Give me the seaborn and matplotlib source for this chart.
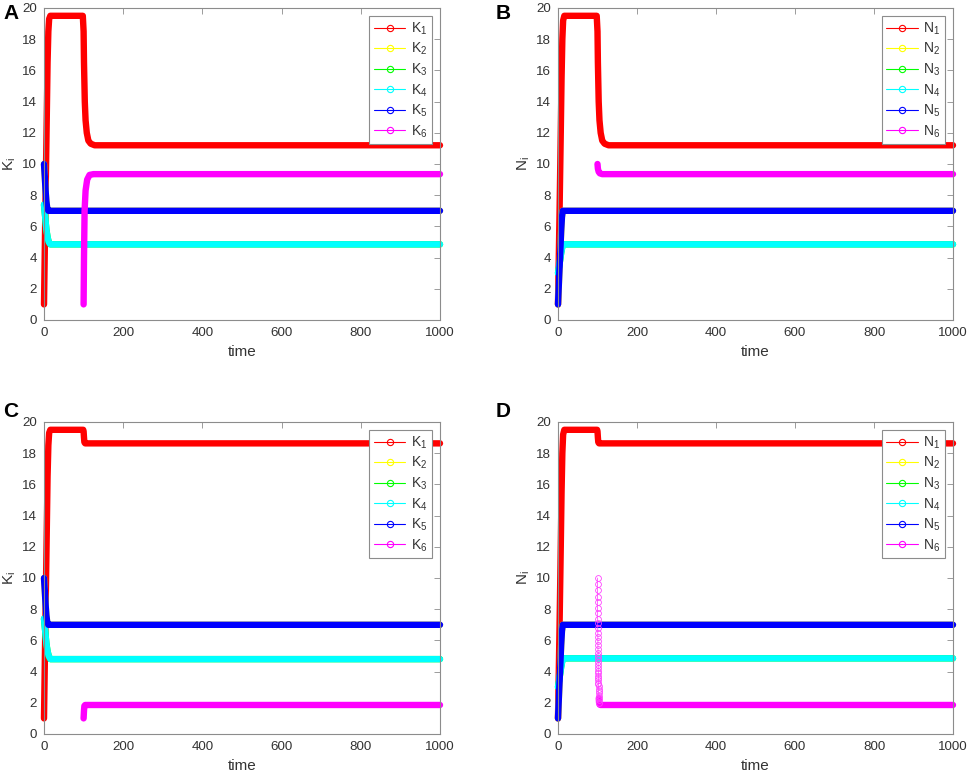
import matplotlib
matplotlib.use("Agg")
import matplotlib.pyplot as plt
import seaborn as sns
from matplotlib.lines import Line2D

# ---------------- data ----------------
# Panel A  (K_i, first scenario)
tA_K1 = [0, 4, 7, 9, 11, 13, 16, 98, 100, 101, 103, 105, 108, 112, 118, 128, 1000]
A_K1 = [1, 8, 13, 16.5, 18.5, 19.3, 19.5, 19.5, 18.5, 16.5, 14.0, 12.8, 12.0, 11.5, 11.3, 11.2, 11.2]
tA_K2 = [0, 2, 4, 6, 8, 11, 1000]
A_K2 = [10, 9.2, 8.3, 7.6, 7.2, 7.0, 7.0]
tA_K3 = [0, 3, 6, 9, 12, 16, 1000]
A_K3 = [7.4, 6.6, 5.8, 5.3, 5.0, 4.85, 4.85]
tA_K4 = [0, 3, 6, 9, 12, 16, 1000]
A_K4 = [7.4, 6.6, 5.8, 5.3, 5.0, 4.85, 4.85]
tA_K5 = [0, 2, 4, 6, 8, 11, 1000]
A_K5 = [10, 9.2, 8.3, 7.6, 7.2, 7.0, 7.0]
tA_K6 = [100, 101, 102.5, 105, 109, 115, 125, 1000]
A_K6 = [1, 4, 7, 8.3, 9.0, 9.3, 9.35, 9.35]

# Panel B  (N_i, first scenario)
tB_N1 = [0, 4, 7, 9, 11, 13, 16, 98, 100, 101, 103, 105, 108, 112, 118, 128, 1000]
B_N1 = [1, 7, 12, 15.5, 18, 19.2, 19.5, 19.5, 18.5, 16.5, 14.0, 12.8, 12.0, 11.5, 11.3, 11.2, 11.2]
tB_N2 = [0, 3, 6, 8, 10, 12, 1000]
B_N2 = [1, 2.8, 4.5, 5.7, 6.6, 7.0, 7.0]
tB_N3 = [0, 4, 8, 11, 14, 1000]
B_N3 = [3, 3.6, 4.3, 4.7, 4.85, 4.85]
tB_N4 = [0, 4, 8, 11, 14, 1000]
B_N4 = [3, 3.6, 4.3, 4.7, 4.85, 4.85]
tB_N5 = [0, 3, 6, 8, 10, 12, 1000]
B_N5 = [1, 2.8, 4.5, 5.7, 6.6, 7.0, 7.0]
tB_N6 = [100, 101, 103, 106, 112, 1000]
B_N6 = [10.0, 9.7, 9.5, 9.4, 9.35, 9.35]

# Panel C  (K_i, second scenario)
tC_K1 = [0, 4, 7, 9, 11, 13, 16, 99, 100, 101, 102, 104, 1000]
C_K1 = [1, 8, 13, 16.5, 18.5, 19.3, 19.5, 19.5, 19.4, 19.0, 18.7, 18.63, 18.63]
tC_K2 = [0, 2, 4, 6, 8, 11, 1000]
C_K2 = [10, 9.2, 8.3, 7.6, 7.2, 7.0, 7.0]
tC_K3 = [0, 3, 6, 9, 12, 16, 1000]
C_K3 = [7.4, 6.6, 5.8, 5.3, 5.0, 4.8, 4.8]
tC_K4 = [0, 3, 6, 9, 12, 16, 1000]
C_K4 = [7.4, 6.6, 5.8, 5.3, 5.0, 4.8, 4.8]
tC_K5 = [0, 2, 4, 6, 8, 11, 1000]
C_K5 = [10, 9.2, 8.3, 7.6, 7.2, 7.0, 7.0]
tC_K6 = [100, 101, 102, 104, 1000]
C_K6 = [1.0, 1.5, 1.8, 1.86, 1.86]

# Panel D  (N_i, second scenario)
tD_N1 = [0, 4, 7, 9, 11, 13, 16, 99, 100, 101, 102, 104, 1000]
D_N1 = [1, 7, 12, 15.5, 18, 19.2, 19.5, 19.5, 19.4, 19.0, 18.7, 18.63, 18.63]
tD_N2 = [0, 3, 6, 8, 10, 12, 1000]
D_N2 = [1, 2.8, 4.5, 5.7, 6.6, 7.0, 7.0]
tD_N3 = [0, 4, 8, 11, 14, 1000]
D_N3 = [3, 3.6, 4.3, 4.7, 4.85, 4.85]
tD_N4 = [0, 4, 8, 11, 14, 1000]
D_N4 = [3, 3.6, 4.3, 4.7, 4.85, 4.85]
tD_N5 = [0, 3, 6, 8, 10, 12, 1000]
D_N5 = [1, 2.8, 4.5, 5.7, 6.6, 7.0, 7.0]
# N6 in D: sparse jump (individual circles visible) followed by the flat band
tD_N6_jump = [100.0, 100.05, 100.1, 100.15, 100.2, 100.3, 100.4, 100.5, 100.6, 100.7,
              100.8, 100.9, 101.0, 101.1, 101.2, 101.3, 101.4, 101.5, 101.6, 101.7,
              101.8, 101.9, 102.0, 102.1, 102.2, 102.3, 102.4, 102.5, 102.6, 102.7,
              102.8, 102.9, 103.0, 103.1, 103.2, 103.3]
D_N6_jump = [10.0, 9.6, 9.2, 8.8, 8.45, 8.1, 7.75, 7.4, 7.1, 6.8,
             6.5, 6.2, 5.95, 5.7, 5.45, 5.2, 5.0, 4.8, 4.6, 4.4,
             4.2, 4.05, 3.9, 3.75, 3.6, 3.45, 3.3, 3.2, 3.05, 2.9,
             2.75, 2.6, 2.45, 2.3, 2.15, 2.0]
tD_N6 = [103.3, 104, 105.5, 108, 1000]
D_N6 = [2.3, 2.0, 1.88, 1.86, 1.86]

series_colors = ["#ff0000", "#ffff00", "#00ff00", "#00ffff", "#0000ff", "#ff00ff"]
xticks = [0, 200, 400, 600, 800, 1000]
yticks = [0, 2, 4, 6, 8, 10, 12, 14, 16, 18, 20]

panels = [
    ("A", "K", [(tA_K1, A_K1), (tA_K2, A_K2), (tA_K3, A_K3), (tA_K4, A_K4), (tA_K5, A_K5), (tA_K6, A_K6)]),
    ("B", "N", [(tB_N1, B_N1), (tB_N2, B_N2), (tB_N3, B_N3), (tB_N4, B_N4), (tB_N5, B_N5), (tB_N6, B_N6)]),
    ("C", "K", [(tC_K1, C_K1), (tC_K2, C_K2), (tC_K3, C_K3), (tC_K4, C_K4), (tC_K5, C_K5), (tC_K6, C_K6)]),
    ("D", "N", [(tD_N1, D_N1), (tD_N2, D_N2), (tD_N3, D_N3), (tD_N4, D_N4), (tD_N5, D_N5), (tD_N6, D_N6)]),
]

# ---------------- style ----------------
sns.set_theme(style="white")
plt.rcParams["font.family"] = ["Liberation Sans", "DejaVu Sans"]
plt.rcParams["mathtext.fontset"] = "custom"
plt.rcParams["mathtext.rm"] = "Liberation Sans"
plt.rcParams["mathtext.it"] = "Liberation Sans"

W, H = 969, 773
fig = plt.figure(figsize=(W / 100, H / 100), dpi=100)

spine_c = "#8c8c8c"
text_c = "#333333"

boxes = {  # left, top, right, bottom in pixels
    "A": (44, 8, 440, 320),
    "B": (558, 8, 953, 320),
    "C": (44, 422, 440, 734),
    "D": (558, 422, 953, 734),
}
letter_pos = {"A": (3, 4), "B": (496, 4), "C": (3, 402), "D": (496, 402)}

for letter, sym, data in panels:
    l, t, r, b = boxes[letter]
    ax = fig.add_axes([l / W, 1 - b / H, (r - l) / W, (b - t) / H])
    for i, (tt, yy) in enumerate(data):
        sns.lineplot(x=tt, y=yy, ax=ax, color=series_colors[i], linewidth=4.6,
                     estimator=None, sort=False, legend=False,
                     solid_capstyle="round", solid_joinstyle="round",
                     clip_on=False, zorder=3 + i)
    if letter == "D":
        sns.lineplot(x=tD_N6_jump, y=D_N6_jump, ax=ax, color="#ff33ff",
                     linewidth=0.5, marker="o", markersize=4.2,
                     markerfacecolor="none", markeredgecolor="#ff44ff",
                     markeredgewidth=0.6, estimator=None, sort=False,
                     legend=False, clip_on=False, zorder=9)

    ax.set_xlim(0, 1000)
    ax.set_ylim(0, 20)
    ax.set_xticks(xticks)
    ax.set_yticks(yticks)
    ax.tick_params(direction="in", top=True, right=True, length=4, width=0.6,
                   color=spine_c, labelcolor=text_c, labelsize=9.6, pad=5)
    for s in ax.spines.values():
        s.set_visible(True)
        s.set_color(spine_c)
        s.set_linewidth(0.8)
        s.set_zorder(20)
    ax.set_xlabel("time", fontsize=11, color=text_c, labelpad=4)
    ax.set_ylabel(r"$\mathregular{%s_i}$" % sym, fontsize=11, color=text_c, labelpad=3)

    handles = [Line2D([0], [0], color=series_colors[i], lw=0.8, marker="o",
                      markersize=4.5, markerfacecolor="none",
                      markeredgecolor=series_colors[i], markeredgewidth=0.8)
               for i in range(6)]
    labels = [r"$\mathregular{%s_%d}$" % (sym, i + 1) for i in range(6)]
    leg = ax.legend(handles, labels, loc="upper right", fontsize=10,
                    frameon=True, fancybox=False, framealpha=1,
                    edgecolor=spine_c, handlelength=2.3, handletextpad=0.4,
                    labelspacing=0.3, borderpad=0.3, borderaxespad=0.6)
    leg.get_frame().set_linewidth(0.8)
    leg.set_zorder(30)
    for txt in leg.get_texts():
        txt.set_color(text_c)

    lx, ly = letter_pos[letter]
    fig.text(lx / W, 1 - ly / H, letter, fontsize=15, fontweight="bold",
             color="black", ha="left", va="top")

fig.savefig("out.png", dpi=100)
